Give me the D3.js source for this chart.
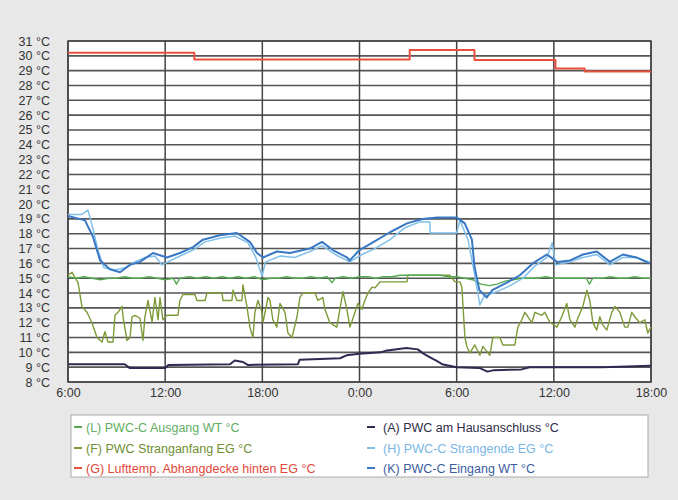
<!DOCTYPE html>
<html>
<head>
<meta charset="utf-8">
<script src="https://cdn.jsdelivr.net/npm/d3@7"></script>
<style>
  html, body { margin: 0; padding: 0; background: #e8e8e8; }
  svg { display: block; }
  text { font-family: "Liberation Sans", Arial, sans-serif; }
</style>
</head>
<body>
<svg id="chart" width="678" height="500"></svg>
<script>
// ---- Data (hours since 6:00 on day 1, temperature °C) ----
const yTickValues = [8,9,10,11,12,13,14,15,16,17,18,19,20,21,22,23,24,25,26,27,28,29,30,31];
const xTickHours = [0, 6, 12, 18, 24, 30, 36];
const xTickLabels = ["6:00", "12:00", "18:00", "0:00", "6:00", "12:00", "18:00"];

const seriesL = [[0,15.1],[0.5,15.0],[1,15.1],[1.5,15.0],[2,14.9],[2.5,15.0],[3,15.0],[3.5,15.1],[4,15.0],[4.5,15.0],[5,15.1],[5.5,15.0],[6,14.9],[6.5,15.0],[6.7,14.6],[6.9,15.0],[7.5,15.1],[8,15.0],[8.5,15.1],[9,15.0],[9.5,15.1],[10,15.0],[10.5,15.1],[11,15.0],[11.5,15.1],[12,14.9],[12.5,15.0],[13,15.0],[13.5,15.1],[14,15.0],[14.5,15.0],[15,15.1],[15.5,15.0],[16,15.1],[16.3,14.7],[16.5,15.0],[17,15.1],[17.5,15.0],[18,15.1],[18.5,15.1],[19,15.0],[19.5,15.1],[20,15.1],[20.5,15.2],[21,15.2],[21.5,15.2],[22,15.2],[22.5,15.2],[23,15.2],[23.5,15.1],[24,15.1],[24.5,15.0],[25,14.9],[25.5,14.6],[26,14.5],[26.5,14.6],[27,14.8],[27.5,14.9],[28,15.0],[28.5,15.0],[29,15.0],[29.5,15.1],[30,15.0],[30.5,15.0],[31,15.0],[31.5,15.0],[32,15.0],[32.2,14.6],[32.4,15.0],[33,15.0],[33.5,15.1],[34,15.0],[34.5,15.0],[35,15.1],[35.5,15.0],[36,15.0]];

const seriesF = [[0,15.2],[0.25,15.4],[0.62,14.7],[0.86,13.1],[1.17,12.7],[1.48,12.0],[1.79,11.0],[2.1,10.7],[2.28,11.4],[2.47,10.7],[2.78,10.7],[2.9,12.5],[3.09,12.7],[3.33,13.1],[3.4,12.4],[3.64,10.8],[3.83,11.0],[3.95,12.4],[4.14,12.5],[4.44,12.3],[4.63,10.8],[4.75,12.4],[4.94,13.5],[5.19,12.05],[5.37,13.7],[5.56,12.2],[5.68,13.7],[5.86,12.2],[6.11,12.5],[6.79,12.5],[6.91,13.5],[7.1,13.9],[7.84,13.9],[7.96,13.5],[8.46,13.5],[8.58,14.0],[9.51,14.0],[9.57,13.5],[10.12,13.5],[10.19,14.2],[10.43,13.5],[10.74,13.5],[10.8,14.55],[11.05,13.1],[11.23,11.7],[11.42,11.0],[11.54,12.7],[11.73,13.5],[11.98,12.7],[12.04,12.0],[12.35,13.7],[12.47,13.5],[12.65,12.2],[12.9,11.7],[13.09,13.3],[13.4,12.7],[13.58,11.3],[13.83,11.0],[14.14,12.4],[14.32,13.7],[14.5,14.0],[15.25,14.0],[15.43,13.5],[15.74,13.7],[15.86,12.9],[16.17,12.0],[16.6,11.7],[16.98,14.1],[17.22,12.9],[17.41,11.7],[17.72,12.7],[17.9,13.3],[18.15,12.9],[18.33,13.5],[18.52,14.0],[18.77,14.4],[18.95,14.35],[19.26,14.75],[20.93,14.75],[20.99,15.2],[23.58,15.2],[23.89,14.75],[24.2,14.75],[24.32,14.4],[24.51,11.0],[24.63,10.4],[24.81,9.95],[25.12,10.5],[25.43,9.8],[25.62,10.4],[26.05,9.8],[26.23,11.0],[26.67,11.0],[26.85,10.5],[27.59,10.5],[27.78,11.7],[28.02,12.2],[28.21,12.7],[28.4,12.4],[28.64,12.0],[28.83,12.7],[29.26,12.5],[29.44,12.7],[29.75,12.05],[30.19,11.7],[30.49,12.4],[30.8,13.3],[30.99,12.2],[31.3,11.7],[31.48,12.3],[31.79,13.1],[32.04,14.2],[32.22,13.5],[32.41,12.0],[32.65,11.5],[32.84,12.4],[33.02,11.85],[33.27,11.5],[33.58,12.7],[33.77,13.1],[34.07,12.7],[34.38,11.7],[34.57,11.7],[34.81,12.7],[35.0,12.4],[35.31,12.0],[35.62,12.2],[35.8,11.3],[36,11.7]];

const seriesG = [[0,30.2],[7.8,30.2],[7.8,29.75],[21.1,29.75],[21.1,30.4],[25.1,30.4],[25.1,29.72],[30.1,29.72],[30.1,29.15],[31.9,29.15],[31.9,28.95],[36,28.95]];

const seriesA = [[0,9.2],[3.5,9.2],[3.8,8.95],[6.0,8.95],[6.2,9.15],[10.0,9.2],[10.3,9.45],[10.8,9.35],[11.1,9.15],[14.2,9.2],[14.3,9.5],[16.8,9.6],[17.2,9.8],[18.0,9.9],[19.3,10.0],[19.6,10.1],[20.9,10.3],[21.6,10.2],[21.9,9.95],[22.3,9.7],[22.8,9.4],[23.1,9.2],[24.0,9.0],[25.4,8.95],[25.9,8.7],[26.3,8.8],[28.0,8.85],[28.5,9.0],[33.0,9.0],[36,9.1]];

const seriesH = [[0,19.3],[0.86,19.3],[1.23,19.6],[1.48,18.6],[1.85,16.9],[2.22,15.7],[2.9,15.55],[3.52,15.7],[4.14,16.1],[4.75,16.4],[5.37,16.5],[5.8,15.9],[6.17,16.1],[6.91,16.5],[7.72,16.9],[8.46,17.45],[9.38,17.7],[10.3,17.85],[11.1,17.4],[11.6,16.4],[11.98,15.15],[12.2,16.1],[13.1,16.5],[14.0,16.4],[14.94,16.8],[15.68,17.2],[16.5,16.6],[17.4,16.1],[18.15,16.6],[18.95,17.0],[19.88,17.6],[20.8,18.4],[21.73,18.8],[22.35,18.8],[22.36,18.05],[24.0,18.05],[24.2,18.9],[24.7,17.6],[25.06,15.55],[25.43,13.2],[25.7,13.8],[26.5,14.1],[27.3,14.5],[28.1,15.0],[28.8,15.8],[29.57,16.4],[29.9,17.4],[30.1,15.9],[31.0,16.1],[31.8,16.4],[32.65,16.6],[33.46,15.9],[34.26,16.4],[35.1,16.4],[35.9,16.1]];

const seriesK = [[0,19.2],[1.05,18.9],[1.54,17.8],[1.98,16.2],[2.59,15.6],[3.21,15.4],[3.83,15.9],[4.44,16.1],[5.25,16.7],[6.11,16.4],[6.91,16.7],[7.72,17.1],[8.33,17.6],[9.38,17.9],[10.43,18.05],[11.23,17.45],[11.67,16.7],[12.04,16.4],[12.9,16.8],[13.7,16.7],[14.94,17.0],[15.68,17.45],[16.36,16.9],[17.22,16.4],[17.4,16.2],[18.0,16.9],[18.8,17.4],[19.88,18.1],[20.93,18.7],[21.9,19.0],[22.8,19.1],[24.0,19.1],[24.5,18.7],[24.94,17.6],[25.1,15.8],[25.4,14.2],[25.86,13.7],[26.2,14.2],[27.1,14.7],[27.9,15.2],[28.7,16.0],[29.57,16.6],[30.2,16.1],[31.0,16.2],[31.8,16.6],[32.65,16.8],[33.46,16.1],[34.26,16.6],[35.1,16.4],[35.9,16.0]];

const legendItems = [
  { key: "L", label: "(L) PWC-C Ausgang WT °C" },
  { key: "A", label: "(A) PWC am Hausanschluss °C" },
  { key: "F", label: "(F) PWC Stranganfang EG °C" },
  { key: "H", label: "(H) PWC-C Strangende EG °C" },
  { key: "G", label: "(G) Lufttemp. Abhangdecke hinten EG °C" },
  { key: "K", label: "(K) PWC-C Eingang WT °C" }
];

// ---- Styling ----
const colors = { L: "#55aa50", F: "#7d9a38", G: "#e8503c", A: "#2c2c52", H: "#80c0ea", K: "#3b78c4" };
const textColors = { L: "#62ad62", F: "#6f8f30", G: "#e2473a", A: "#2c2c48", H: "#78b6e6", K: "#3a5c9e" };
const widths = { L: 1.4, F: 1.4, G: 2, A: 2, H: 1.5, K: 2 };

const svg = d3.select("#chart");
const plot = { left: 68, right: 651, top: 41, bottom: 382 };

const x = d3.scaleLinear().domain([0, 36]).range([plot.left, plot.right]);
const y = d3.scaleLinear().domain([8, 31]).range([plot.bottom, plot.top]);

// plot background
svg.append("rect")
  .attr("x", plot.left).attr("y", plot.top)
  .attr("width", plot.right - plot.left).attr("height", plot.bottom - plot.top)
  .attr("fill", "#ffffff");

// horizontal gridlines
svg.append("g").selectAll("line").data(yTickValues).join("line")
  .attr("x1", plot.left).attr("x2", plot.right)
  .attr("y1", d => y(d)).attr("y2", d => y(d))
  .attr("stroke", "#555").attr("stroke-width", 1.6);

// vertical gridlines
svg.append("g").selectAll("line").data(xTickHours).join("line")
  .attr("x1", d => x(d)).attr("x2", d => x(d))
  .attr("y1", plot.top).attr("y2", plot.bottom)
  .attr("stroke", "#444").attr("stroke-width", 1.5);

// border
svg.append("rect")
  .attr("x", plot.left).attr("y", plot.top)
  .attr("width", plot.right - plot.left).attr("height", plot.bottom - plot.top)
  .attr("fill", "none").attr("stroke", "#444").attr("stroke-width", 1.5);

// series
const line = d3.line().x(d => x(d[0])).y(d => y(d[1]));
const seriesMap = { F: seriesF, L: seriesL, G: seriesG, A: seriesA, H: seriesH, K: seriesK };
["F", "L", "G", "A", "H", "K"].forEach(k => {
  svg.append("path").datum(seriesMap[k])
    .attr("d", line)
    .attr("fill", "none")
    .attr("stroke", colors[k])
    .attr("stroke-width", widths[k])
    .attr("stroke-linejoin", "round");
});

// y axis
const yAxis = svg.append("g")
  .attr("transform", `translate(${plot.left - 18},0)`)
  .call(d3.axisLeft(y).tickValues(yTickValues).tickFormat(d => `${d} °C`).tickSize(0).tickPadding(0));
yAxis.select(".domain").remove();
yAxis.selectAll("text").attr("font-size", 12.5).attr("fill", "#333")
  .style("font-family", "'Liberation Sans', Arial, sans-serif");

// x axis
const xAxis = svg.append("g")
  .attr("transform", `translate(0,${plot.bottom + 6})`)
  .call(d3.axisBottom(x).tickValues(xTickHours).tickFormat((d, i) => xTickLabels[i]).tickSize(0).tickPadding(0));
xAxis.select(".domain").remove();
xAxis.selectAll("text").attr("font-size", 12.5).attr("fill", "#333")
  .style("font-family", "'Liberation Sans', Arial, sans-serif");

// legend
const lg = svg.append("g");
lg.append("rect")
  .attr("x", 71).attr("y", 415).attr("width", 577).attr("height", 62)
  .attr("fill", "#ffffff").attr("stroke", "#aaa").attr("stroke-width", 1);

const colX = [[74, 86], [367, 383]];
const rowY = [427, 448, 468];
legendItems.forEach((it, i) => {
  const c = i % 2, r = Math.floor(i / 2);
  const g = lg.append("g");
  g.append("line")
    .attr("x1", colX[c][0]).attr("x2", colX[c][0] + 8)
    .attr("y1", rowY[r]).attr("y2", rowY[r])
    .attr("stroke", colors[it.key]).attr("stroke-width", 2);
  g.append("text")
    .attr("x", colX[c][1]).attr("y", rowY[r] + 4.5)
    .attr("font-size", 12.5)
    .attr("fill", textColors[it.key])
    .text(it.label);
});
</script>
</body>
</html>
